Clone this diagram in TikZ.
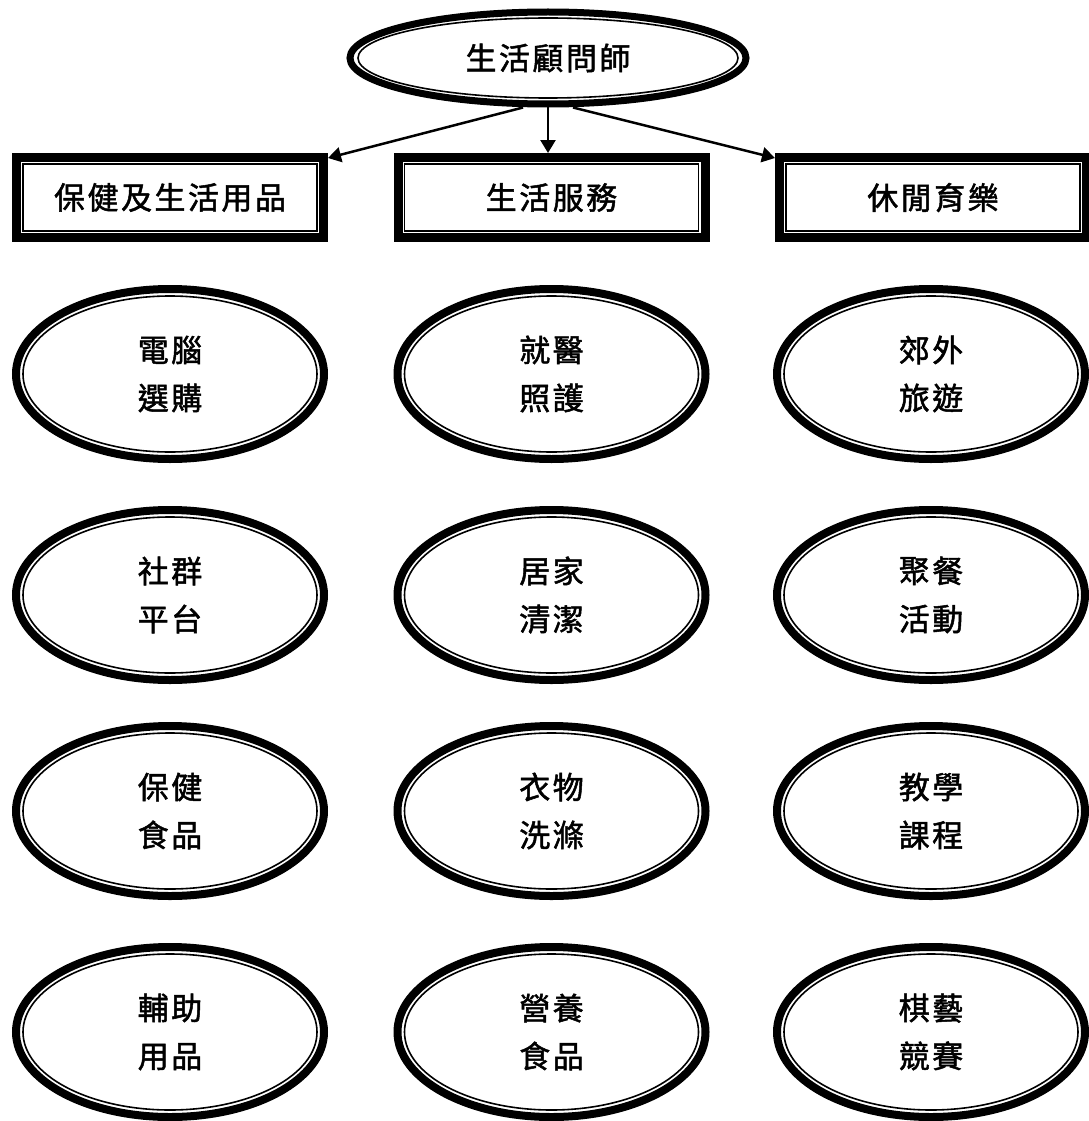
\documentclass[tikz,border=0pt]{standalone}
\usepackage{fontspec}
\newfontfamily\cjk[LetterSpace=8,FakeBold=1.6]{Noto Sans CJK TC}
\usetikzlibrary{shapes.geometric,arrows.meta,calc}
\begin{document}
\begin{tikzpicture}[x=1pt,y=-1pt,
  cjktext/.style={font=\cjk\fontsize{31}{48}\selectfont, align=center, text=black},
  bigoval/.style={ellipse, draw, line width=8pt, inner sep=0pt, minimum width=308pt, minimum height=170pt, cjktext},
  topoval/.style={ellipse, draw, line width=7pt, inner sep=0pt, minimum width=396pt, minimum height=92pt, cjktext},
  thinline/.style={line width=1.6pt},
  catbox/.style={rectangle, draw, line width=9pt, inner sep=0pt, minimum width=307pt, minimum height=80pt, cjktext},
  conn/.style={line width=2.5pt, -{Triangle[length=13pt,width=15pt]}}
]
\fill[white] (0,0) rectangle (1088,1121);
\useasboundingbox (0,0) rectangle (1088,1121);

% top
\node[topoval] (top) at (548,58) {生活顧問師};
\draw[thinline] (top.center) ellipse [x radius=190pt, y radius=40pt];

% category boxes
\node[catbox] (b1) at (170,197.5) {保健及生活用品};
\node[catbox] (b2) at (551.5,197.5) {生活服務};
\node[catbox] (b3) at (933,197.5) {休閒育樂};
\foreach \b in {b1,b2,b3}{
  \draw[thinline] ($(\b.center)+(-147,-33.5)$) rectangle ($(\b.center)+(147,33.5)$);
}

% arrows
\draw[conn] ($(top.south)+(-25,0)$) -- ($(b1.north east)+(0,5)$);
\draw[conn] (top.south) -- (top.south |- b2.north);
\draw[conn] ($(top.south)+(25,0)$) -- ($(b3.north west)+(0,5)$);

% ovals
\node[bigoval] (e11) at (170,374) {電腦\\選購};
\node[bigoval] (e21) at (170,595) {社群\\平台};
\node[bigoval] (e31) at (170,811) {保健\\食品};
\node[bigoval] (e41) at (170,1032) {輔助\\用品};
\node[bigoval] (e12) at (551.5,374) {就醫\\照護};
\node[bigoval] (e22) at (551.5,595) {居家\\清潔};
\node[bigoval] (e32) at (551.5,811) {衣物\\洗滌};
\node[bigoval] (e42) at (551.5,1032) {營養\\食品};
\node[bigoval] (e13) at (931,374) {郊外\\旅遊};
\node[bigoval] (e23) at (931,595) {聚餐\\活動};
\node[bigoval] (e33) at (931,811) {教學\\課程};
\node[bigoval] (e43) at (931,1032) {棋藝\\競賽};
\foreach \e in {e11,e21,e31,e41,e12,e22,e32,e42,e13,e23,e33,e43}{
  \draw[thinline] (\e.center) ellipse [x radius=147pt, y radius=78pt];
}
\end{tikzpicture}
\end{document}
